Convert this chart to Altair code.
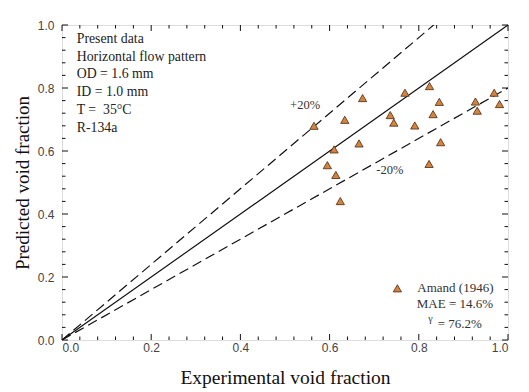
import altair as alt
import pandas as pd

# ---- data ----
exp_void = [0.565, 0.595, 0.610, 0.614, 0.624, 0.634, 0.666, 0.674, 0.736, 0.744,
            0.769, 0.791, 0.824, 0.823, 0.832, 0.846, 0.849, 0.927, 0.931, 0.969, 0.981]
pred_void = [0.680, 0.555, 0.605, 0.524, 0.441, 0.699, 0.624, 0.768, 0.714, 0.690,
             0.785, 0.681, 0.806, 0.559, 0.717, 0.756, 0.628, 0.757, 0.728, 0.785, 0.749]

line_x = [0.0, 1.0]
line_factors = [1.0, 1.2, 0.8]
line_names = ["exact", "+20%", "-20%"]

major_ticks = [0.0, 0.2, 0.4, 0.6, 0.8, 1.0]
minor_ticks = [0.04, 0.08, 0.12, 0.16, 0.24, 0.28, 0.32, 0.36, 0.44, 0.48, 0.52, 0.56,
               0.64, 0.68, 0.72, 0.76, 0.84, 0.88, 0.92, 0.96]

info_lines = ["Present data", "Horizontal flow pattern", "OD = 1.6 mm",
              "ID = 1.0 mm", "T =\u00a0 35\u00b0C", "R-134a"]
info_y = [0.955, 0.899, 0.843, 0.787, 0.731, 0.672]
info_x = 0.033

band_labels = ["+20%", "-20%"]
band_x = [0.545, 0.735]
band_y = [0.746, 0.540]

legend_marker = {"x": [0.752], "y": [0.164]}
legend_texts = ["Amand (1946)", "MAE = 14.6%", "= 76.2%"]
legend_tx = [0.882, 0.881, 0.892]
legend_ty = [0.164, 0.115, 0.052]
gamma_xy = (0.826, 0.068)

W, H = 446, 315
SERIF = "Liberation Serif"
SANS = "Liberation Sans"

xs = alt.Scale(domain=[0, 1], nice=False, zero=False)
ys = alt.Scale(domain=[0, 1], nice=False, zero=False)

pts = pd.DataFrame({"x": exp_void, "y": pred_void})

rows = []
for n, f in zip(line_names, line_factors):
    for xv in line_x:
        rows.append({"name": n, "x": xv, "y": f * xv})
lines = pd.DataFrame(rows)

xaxis = alt.Axis(values=major_ticks, format=".1f", ticks=False, domain=False, grid=False,
                 labelFont=SANS, labelFontSize=12, labelColor="#444444", labelPadding=2,
                 title="Experimental void fraction", titleFont=SERIF, titleFontSize=19.5,
                 titleFontWeight="normal", titleColor="#111111", titlePadding=15)
yaxis = alt.Axis(values=major_ticks, format=".1f", ticks=False, domain=False, grid=False,
                 labelFont=SANS, labelFontSize=12, labelColor="#444444", labelPadding=8,
                 title="Predicted void fraction", titleFont=SERIF, titleFontSize=19,
                 titleFontWeight="normal", titleColor="#111111", titlePadding=5)

solid = alt.Chart(lines[lines.name == "exact"]).mark_line(color="#111111", strokeWidth=1.2).encode(
    x=alt.X("x:Q", scale=xs, axis=xaxis), y=alt.Y("y:Q", scale=ys, axis=yaxis))
dashed = alt.Chart(lines[lines.name != "exact"]).mark_line(
    color="#111111", strokeWidth=1.2, strokeDash=[10, 5], clip=True).encode(
    x=alt.X("x:Q", scale=xs), y=alt.Y("y:Q", scale=ys), detail="name:N")

points = alt.Chart(pts).mark_point(shape="triangle-up", filled=True, size=68,
                                   fill="#D4843F", stroke="#4A2A10", strokeWidth=0.8, opacity=1).encode(
    x=alt.X("x:Q", scale=xs), y=alt.Y("y:Q", scale=ys))

# inward ticks on all four sides
major_df = pd.DataFrame({"t": major_ticks})
minor_df = pd.DataFrame({"t": minor_ticks})
tick_layers = []
for df, L in [(major_df, 6), (minor_df, 3.5)]:
    base = alt.Chart(df).mark_rule(color="#111111", strokeWidth=1)
    tick_layers += [
        base.encode(x=alt.X("t:Q", scale=xs), y=alt.value(H), y2=alt.value(H - L)),
        base.encode(x=alt.X("t:Q", scale=xs), y=alt.value(0), y2=alt.value(L)),
        base.encode(y=alt.Y("t:Q", scale=ys), x=alt.value(0), x2=alt.value(L)),
        base.encode(y=alt.Y("t:Q", scale=ys), x=alt.value(W), x2=alt.value(W - L)),
    ]

info = alt.Chart(pd.DataFrame({"t": info_lines, "y": info_y, "x": [info_x] * len(info_lines)})).mark_text(
    align="left", baseline="middle", font=SERIF, fontSize=13.8, color="#222222").encode(
    x=alt.X("x:Q", scale=xs), y=alt.Y("y:Q", scale=ys), text="t:N")

bands = alt.Chart(pd.DataFrame({"t": band_labels, "x": band_x, "y": band_y})).mark_text(
    align="center", baseline="middle", font=SERIF, fontSize=12.5, color="#333333").encode(
    x=alt.X("x:Q", scale=xs), y=alt.Y("y:Q", scale=ys), text="t:N")

leg_marker = alt.Chart(pd.DataFrame(legend_marker)).mark_point(
    shape="triangle-up", filled=True, size=68, fill="#D4843F", stroke="#4A2A10",
    strokeWidth=0.8, opacity=1).encode(x=alt.X("x:Q", scale=xs), y=alt.Y("y:Q", scale=ys))
leg_text = alt.Chart(pd.DataFrame({"t": legend_texts, "x": legend_tx, "y": legend_ty})).mark_text(
    align="center", baseline="middle", font=SERIF, fontSize=13, color="#333333").encode(
    x=alt.X("x:Q", scale=xs), y=alt.Y("y:Q", scale=ys), text="t:N")
gamma = alt.Chart(pd.DataFrame({"t": ["\u03b3"], "x": [gamma_xy[0]], "y": [gamma_xy[1]]})).mark_text(
    align="center", baseline="middle", font=SERIF, fontSize=10, color="#333333").encode(
    x=alt.X("x:Q", scale=xs), y=alt.Y("y:Q", scale=ys), text="t:N")

chart = alt.layer(solid, dashed, *tick_layers, points, info, bands, leg_marker, leg_text, gamma).properties(
    width=W, height=H, padding={"top": 11, "left": 5, "right": 5, "bottom": 2}
).configure_view(stroke="#111111", strokeWidth=1.2).configure(background="white")

chart.save("out.html", embed_options={"renderer": "svg", "actions": False})
